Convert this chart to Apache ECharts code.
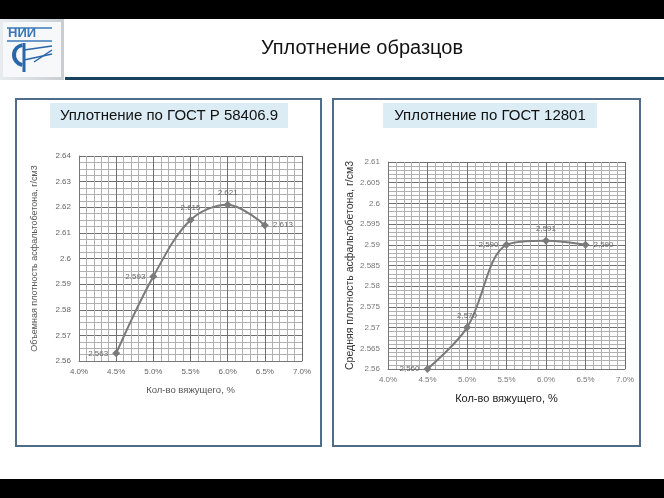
<!DOCTYPE html>
<html><head><meta charset="utf-8">
<script src="https://cdn.jsdelivr.net/npm/echarts@6/dist/echarts.min.js"></script>
<style>html,body{margin:0;padding:0;background:#fff}#c{width:664px;height:498px}</style>
</head><body><div id="c"></div>
<script>
// ---- data ----
const binderContent = [4.5, 5.0, 5.5, 6.0, 6.5];           // Кол-во вяжущего, %
const densityGost58406 = [2.563, 2.593, 2.615, 2.621, 2.613]; // left chart
const densityGost12801 = [2.560, 2.570, 2.590, 2.591, 2.590]; // right chart
const xTicks = [4.0, 4.5, 5.0, 5.5, 6.0, 6.5, 7.0];
const yTicksLeft = [2.56, 2.57, 2.58, 2.59, 2.6, 2.61, 2.62, 2.63, 2.64];
const yTicksRight = [2.56, 2.565, 2.57, 2.575, 2.58, 2.585, 2.59, 2.595, 2.6, 2.605, 2.61];

const pageTitle = 'Уплотнение образцов';
const leftTitle = 'Уплотнение по ГОСТ Р 58406.9';
const rightTitle = 'Уплотнение по ГОСТ 12801';
const leftYName = 'Объемная плотность асфальтобетона, г/см3';
const rightYName = 'Средняя плотность асфальтобетона, г/см3';
const xName = 'Кол-во вяжущего, %';

// ---- styles ----
const leftLabelPos = ['left', 'left', 'top', 'top', 'right'];
const rightLabelPos = ['left', 'top', 'left', 'top', 'right'];
const FONT = '"Liberation Sans", Arial, sans-serif';

const chart = echarts.init(document.getElementById('c'), null, {renderer: 'canvas'});

function xAxisCfg(gridIndex, labelColor, nameColor, nameSize) {
  return {
    type: 'value', gridIndex, min: xTicks[0], max: xTicks[xTicks.length - 1], interval: 0.5,
    name: xName, nameLocation: 'middle', nameGap: 24,
    nameTextStyle: {color: nameColor, fontSize: nameSize, fontFamily: FONT},
    axisLine: {show: true, lineStyle: {color: '#777', width: 1}},
    axisTick: {show: false},
    axisLabel: {color: labelColor, fontSize: 8, fontFamily: FONT, margin: 7,
      formatter: v => v.toFixed(1) + '%'},
    splitLine: {show: true, lineStyle: {color: '#6f6f6f', width: 1}},
    minorTick: {show: false, splitNumber: 5},
    minorSplitLine: {show: true, lineStyle: {color: '#b0b0b0', width: 1}}
  };
}
function yAxisCfg(gridIndex, ticks, interval, minorN, name, nameColor, nameSize, nameGap, labelColor) {
  return {
    type: 'value', gridIndex, min: ticks[0], max: ticks[ticks.length - 1], interval,
    name, nameLocation: 'middle', nameGap,
    nameTextStyle: {color: nameColor, fontSize: nameSize, fontFamily: FONT},
    axisLine: {show: true, lineStyle: {color: '#777', width: 1}},
    axisTick: {show: false},
    axisLabel: {color: labelColor, fontSize: 8, fontFamily: FONT, margin: 8,
      formatter: v => String(parseFloat(v.toFixed(3)))},
    splitLine: {show: true, lineStyle: {color: '#6f6f6f', width: 1}},
    minorTick: {show: false, splitNumber: minorN},
    minorSplitLine: {show: true, lineStyle: {color: '#b0b0b0', width: 1}}
  };
}
function seriesCfg(idx, values, positions, fmt) {
  return {
    type: 'line', xAxisIndex: idx, yAxisIndex: idx, smooth: 0.35,
    symbol: 'diamond', symbolSize: 8,
    lineStyle: {color: '#7a7a7a', width: 2},
    itemStyle: {color: '#7a7a7a'},
    data: binderContent.map((x, i) => ({
      value: [x, values[i]],
      label: {show: true, position: positions[i], formatter: () => fmt(values[i]),
        color: '#666', fontSize: 8, fontFamily: FONT, distance: 4}
    }))
  };
}

// logo pieces
const logo = [
  {type: 'rect', shape: {x: 0, y: 19, width: 64, height: 61},
   style: {fill: new echarts.graphic.LinearGradient(0, 0, 1, 0, [{offset: 0, color: '#e9ecef'}, {offset: 1, color: '#c9cdd1'}])}},
  {type: 'rect', shape: {x: 3, y: 22, width: 58, height: 55}, style: {fill: '#f7f8fa'}},
  {type: 'text', style: {x: 8, y: 27, text: 'НИИ', fill: '#3a78b8', font: 'bold 13px ' + FONT}},
  {type: 'line', shape: {x1: 7, y1: 28, x2: 52, y2: 28}, style: {stroke: '#3a78b8', lineWidth: 1.5}},
  {type: 'line', shape: {x1: 7, y1: 41, x2: 52, y2: 41}, style: {stroke: '#3a78b8', lineWidth: 1.5}},
  {type: 'arc', shape: {cx: 24, cy: 55, r: 10, startAngle: Math.PI * 0.55, endAngle: Math.PI * 1.45, clockwise: true},
   style: {stroke: '#2a66a8', lineWidth: 4, fill: null}},
  {type: 'line', shape: {x1: 24, y1: 43, x2: 24, y2: 72}, style: {stroke: '#2a66a8', lineWidth: 3}},
  {type: 'line', shape: {x1: 24, y1: 50, x2: 52, y2: 46}, style: {stroke: '#2a66a8', lineWidth: 1.5}},
  {type: 'line', shape: {x1: 24, y1: 60, x2: 52, y2: 54}, style: {stroke: '#2a66a8', lineWidth: 1.5}},
  {type: 'line', shape: {x1: 34, y1: 62, x2: 52, y2: 50}, style: {stroke: '#2a66a8', lineWidth: 1.5}}
];

const option = {
  animation: false,
  backgroundColor: '#ffffff',
  graphic: [
    {type: 'rect', shape: {x: 0, y: 0, width: 664, height: 19}, style: {fill: '#000'}},
    {type: 'rect', shape: {x: 0, y: 479, width: 664, height: 19}, style: {fill: '#000'}},
    ...logo,
    {type: 'text', style: {x: 362, y: 48, text: pageTitle, fill: '#111', font: '20px ' + FONT, align: 'center', verticalAlign: 'middle'}},
    {type: 'rect', shape: {x: 65, y: 77, width: 599, height: 3}, style: {fill: '#17435f'}},
    {type: 'rect', shape: {x: 16, y: 99, width: 305, height: 347}, style: {fill: null, stroke: '#4f6c89', lineWidth: 2}},
    {type: 'rect', shape: {x: 333, y: 99, width: 307, height: 347}, style: {fill: null, stroke: '#4f6c89', lineWidth: 2}},
    {type: 'rect', shape: {x: 50, y: 103, width: 238, height: 25}, style: {fill: '#dbecf4'}},
    {type: 'rect', shape: {x: 383, y: 103, width: 214, height: 25}, style: {fill: '#dbecf4'}},
    {type: 'text', style: {x: 169, y: 116, text: leftTitle, fill: '#111', font: '15px ' + FONT, align: 'center', verticalAlign: 'middle'}},
    {type: 'text', style: {x: 490, y: 116, text: rightTitle, fill: '#111', font: '15px ' + FONT, align: 'center', verticalAlign: 'middle'}}
  ],
  grid: [
    {left: 79, right: 362, top: 156, bottom: 137},
    {left: 388, right: 39, top: 162, bottom: 129}
  ],
  xAxis: [
    xAxisCfg(0, '#666', '#555', 9.5),
    xAxisCfg(1, '#777', '#222', 11)
  ],
  yAxis: [
    yAxisCfg(0, yTicksLeft, 0.01, 4, leftYName, '#555', 9, 40, '#666'),
    yAxisCfg(1, yTicksRight, 0.005, 5, rightYName, '#333', 10.5, 28, '#777')
  ],
  series: [
    seriesCfg(0, densityGost58406, leftLabelPos, v => v.toFixed(3)),
    seriesCfg(1, densityGost12801, rightLabelPos, v => v.toFixed(3).replace('.', ','))
  ]
};
chart.setOption(option);
</script></body></html>
